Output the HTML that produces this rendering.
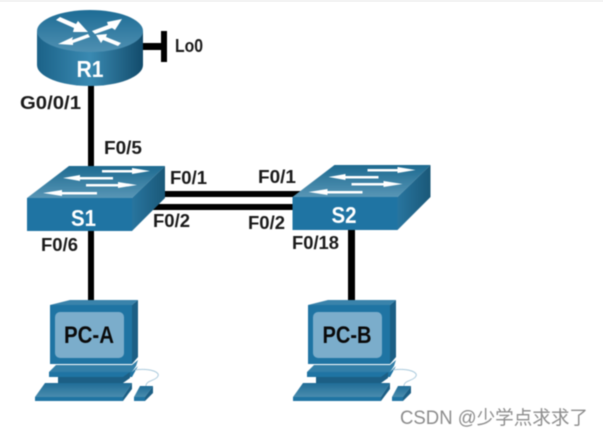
<!DOCTYPE html>
<html><head><meta charset="utf-8">
<style>
html,body{margin:0;padding:0;background:#fff;width:603px;height:437px;overflow:hidden}
svg{display:block}
text{font-family:"Liberation Sans","Noto Sans CJK SC",sans-serif}
.l{font-size:18.500px;font-weight:bold;fill:#1a1a1a}
.n{font-size:23px;font-weight:bold;fill:#fff}
.p{font-size:24px;font-weight:bold;fill:#0a0a0a}
.b{filter:blur(.4px)}
</style></head><body>
<svg width="603" height="437" viewBox="0 0 603 437" xmlns="http://www.w3.org/2000/svg">
<defs>
<linearGradient id="cyl" x1="0" x2="1" y1="0" y2="0">
<stop offset="0" stop-color="#1b6288"/><stop offset=".5" stop-color="#3a8ab2"/><stop offset="1" stop-color="#124b6b"/>
</linearGradient>
<linearGradient id="rtop" x1="0" x2="0" y1="0" y2="1">
<stop offset="0" stop-color="#1d6c95"/><stop offset="1" stop-color="#4f90b2"/>
</linearGradient>
<linearGradient id="stop" x1="0" x2="0" y1="0" y2="1">
<stop offset="0" stop-color="#1d6a90"/><stop offset="1" stop-color="#5896b6"/>
</linearGradient>
<linearGradient id="sside" x1="0" x2="1" y1="0" y2="0">
<stop offset="0" stop-color="#28759f"/><stop offset="1" stop-color="#1a5878"/>
</linearGradient>
<linearGradient id="kb" x1="0" x2="0" y1="0" y2="1">
<stop offset="0" stop-color="#206d97"/><stop offset="1" stop-color="#4a8cae"/>
</linearGradient>
<g id="sw">
<polygon points="27,198 69,166 165,166 132,198" fill="url(#stop)"/>
<rect x="27" y="198" width="105" height="33" fill="#1f74a3"/>
<polygon points="132,198 165,166 165,198 132,231" fill="url(#sside)"/>
<g fill="#fff">
<polygon points="102,170 132,170 132,168 150,171 132,174 132,172.500 102,172.500"/>
<polygon points="113,177 80,177 80,175 63,178 80,181 80,179.500 113,179.500"/>
<polygon points="86,184 118,184 118,182 137,185 118,188 118,186.500 86,186.500"/>
<polygon points="97,192 62,192 62,190 43,193 62,196 62,194.500 97,194.500"/>
</g>
</g>
<g id="pc">
<polygon points="50,305 70,300 138,300 132,305" fill="#3a83ab"/>
<rect x="50" y="305" width="82" height="59" fill="#1f74a3"/>
<polygon points="132,305 138,300 138,357 132,364" fill="#1c5f85"/>
<rect x="55" y="312" width="69" height="46" rx="5" fill="#7badcb"/>
<polygon points="56,365 132,365 138,360 136,366 132,372 49,372" fill="#337fa8"/>
<polygon points="49,372 132,372 138,366 132,377 49,377" fill="#1f74a3"/>
<rect x="58" y="377" width="65" height="6" fill="#1c5f85"/>
<polygon points="123,377 130,372 130,378 123,383" fill="#1c5f85"/>
<polygon points="45,383 132,383 123,397 35,397" fill="url(#kb)"/>
<polygon points="35,397 123,397 123,401 35,401" fill="#1f74a3"/>
<polygon points="123,397 132,383 132,389 123,401" fill="#1c5f85"/>
<polygon points="140,386 153,386 145,397 134,397" fill="url(#kb)"/>
<polygon points="134,397 145,397 145,401 134,401" fill="#1f74a3"/>
<polygon points="145,397 153,386 153,393 145,401" fill="#1c5f85"/>
<path d="M135,370 C150,368 160,372 158,376 C156,381 146,380 146,386" fill="none" stroke="#a9c9dc" stroke-width="1"/>
</g>
</defs>
<rect x="0" y="0" width="603" height="2" fill="#f3f3f3"/>

<g class="b">
<!-- links -->
<rect x="88" y="80" width="6" height="90" fill="#000"/>
<rect x="143" y="43" width="20" height="7" fill="#000"/>
<rect x="161" y="31" width="6" height="31" fill="#000"/>
<rect x="88" y="228" width="6" height="74" fill="#000"/>
<rect x="348" y="228" width="7" height="74" fill="#000"/>
<rect x="160" y="191" width="145" height="6" fill="#000"/>
<rect x="150" y="204" width="145" height="6" fill="#000"/>

<!-- router -->
<path d="M37,31 V65 A53,21 0 0 0 143,65 V31 Z" fill="url(#cyl)"/>
<ellipse cx="90" cy="31" rx="53" ry="21" fill="url(#rtop)"/>
<g fill="#fff">
<polygon points="56,20 60,17 76,24 78,21 88,32 73,32 74,28"/>
<polygon points="92,31 108,25 107,22 122,19 115,30 112,28 95,34"/>
<polygon points="88,34 72,40 73,37 58,44 73,45 73,43 90,37"/>
<polygon points="96,35 107,34 106,37 121,43 118,46 103,40 101,43"/>
</g>

<!-- switches -->
<use href="#sw"/>
<use href="#sw" transform="translate(265.500,-1)"/>

<!-- PCs -->
<use href="#pc"/>
<use href="#pc" transform="translate(258,0)"/>

<text class="n" x="90" y="77" text-anchor="middle" textLength="27" lengthAdjust="spacingAndGlyphs">R1</text>
<text class="n" x="83.500" y="226" text-anchor="middle" textLength="25" lengthAdjust="spacingAndGlyphs">S1</text>
<text class="n" x="344" y="223" text-anchor="middle" textLength="25" lengthAdjust="spacingAndGlyphs">S2</text>
<text class="p" x="89" y="343" text-anchor="middle" textLength="50" lengthAdjust="spacingAndGlyphs">PC-A</text>
<text class="p" x="347" y="343" text-anchor="middle" textLength="49" lengthAdjust="spacingAndGlyphs">PC-B</text>

<!-- labels -->
<text class="l" x="175" y="52" textLength="28" lengthAdjust="spacingAndGlyphs">Lo0</text>
<text class="l" x="20" y="109" textLength="61" lengthAdjust="spacingAndGlyphs">G0/0/1</text>
<text class="l" x="104" y="154" textLength="38" lengthAdjust="spacingAndGlyphs">F0/5</text>
<text class="l" x="170" y="184" textLength="37" lengthAdjust="spacingAndGlyphs">F0/1</text>
<text class="l" x="153" y="227" textLength="37" lengthAdjust="spacingAndGlyphs">F0/2</text>
<text class="l" x="41" y="251" textLength="37" lengthAdjust="spacingAndGlyphs">F0/6</text>
<text class="l" x="258" y="183" textLength="38" lengthAdjust="spacingAndGlyphs">F0/1</text>
<text class="l" x="248" y="229" textLength="37" lengthAdjust="spacingAndGlyphs">F0/2</text>
<text class="l" x="292" y="249" textLength="47" lengthAdjust="spacingAndGlyphs">F0/18</text>

<!-- watermark -->
<text x="400" y="424" font-size="19" fill="#8c8c8c" textLength="188" lengthAdjust="spacingAndGlyphs">CSDN @少学点求求了</text>
</g>
</svg>
</body></html>
